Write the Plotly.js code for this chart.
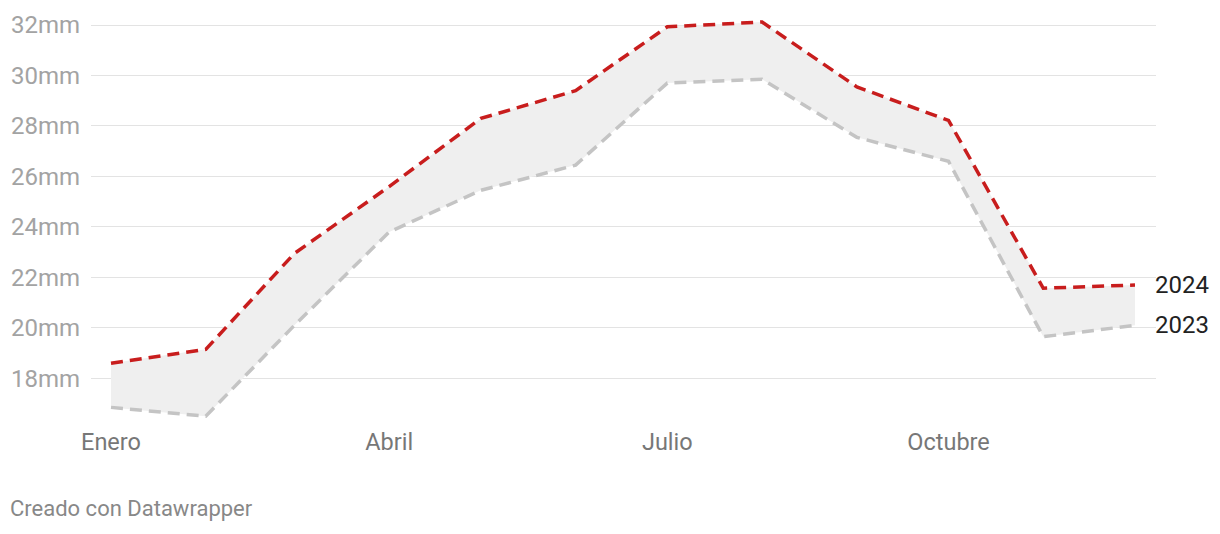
<!DOCTYPE html>
<html>
<head>
<meta charset="utf-8">
<script src="https://cdn.plot.ly/plotly-3.0.1.min.js"></script>
<style>
html,body{margin:0;padding:0;background:#fff;}
#chart{width:1220px;height:534px;}
</style>
</head>
<body>
<div id="chart"></div>
<script>
var months = ['2024-01-01','2024-02-01','2024-03-01','2024-04-01','2024-05-01','2024-06-01',
              '2024-07-01','2024-08-01','2024-09-01','2024-10-01','2024-11-01','2024-12-01'];
var values2023 = [16.85, 16.5, 20.1, 23.8, 25.45, 26.45, 29.7, 29.85, 27.55, 26.6, 19.65, 20.1];
var values2024 = [18.6, 19.15, 22.95, 25.6, 28.3, 29.4, 31.93, 32.12, 29.55, 28.22, 21.57, 21.7];
var tickDates = ['2024-01-01','2024-04-01','2024-07-01','2024-10-01'];
var tickNames = ['Enero','Abril','Julio','Octubre'];
var yTicks = [18, 20, 22, 24, 26, 28, 30, 32];
var yTickNames = yTicks.map(function(v){ return v + 'mm'; });
var seriesNames = ['2023', '2024'];

var traces = [
  {
    x: months, y: values2023, name: seriesNames[0], type: 'scatter', mode: 'lines',
    line: {color: '#c4c4c4', width: 3.5, dash: '12px,7px'},
    hoverinfo: 'skip'
  },
  {
    x: months, y: values2024, name: seriesNames[1], type: 'scatter', mode: 'lines',
    fill: 'tonexty', fillcolor: '#efefef',
    line: {color: '#c81d1d', width: 3.5, dash: '12px,7px'},
    hoverinfo: 'skip'
  }
];

var last = months.length - 1;
var layout = {
  width: 1220, height: 534,
  margin: {l: 91, r: 64, t: 20, b: 114},
  paper_bgcolor: '#ffffff', plot_bgcolor: '#ffffff',
  showlegend: false,
  font: {family: 'Roboto, sans-serif'},
  xaxis: {
    type: 'date',
    range: ['2023-12-25 11:00', '2024-12-07 21:00'],
    tickmode: 'array', tickvals: tickDates, ticktext: tickNames,
    showgrid: false, zeroline: false, showline: false, ticks: '',
    tickfont: {family: 'Roboto, sans-serif', size: 23.5, color: '#777777'},
    ticklabelstandoff: 5
  },
  yaxis: {
    range: [16.35, 32.2],
    tickmode: 'array', tickvals: yTicks, ticktext: yTickNames,
    showgrid: true, gridcolor: '#e3e3e3', gridwidth: 1,
    zeroline: false, showline: false, ticks: '',
    tickfont: {family: 'Roboto, sans-serif', size: 24, color: '#a3a3a3'},
    ticklabelstandoff: 10
  },
  annotations: [
    {x: months[last], y: values2024[last], xref: 'x', yref: 'y', text: seriesNames[1],
     showarrow: false, xanchor: 'left', yanchor: 'middle', xshift: 18,
     font: {family: 'Roboto, sans-serif', size: 24, color: '#222222'}},
    {x: months[last], y: values2023[last], xref: 'x', yref: 'y', text: seriesNames[0],
     showarrow: false, xanchor: 'left', yanchor: 'middle', xshift: 18,
     font: {family: 'Roboto, sans-serif', size: 24, color: '#222222'}},
    {x: -0.0775, y: -0.22, xref: 'paper', yref: 'paper', text: 'Creado con Datawrapper',
     showarrow: false, xanchor: 'left', yanchor: 'middle',
     font: {family: 'Roboto, sans-serif', size: 22, color: '#888888'}}
  ]
};

Plotly.newPlot('chart', traces, layout, {displayModeBar: false, staticPlot: true});
</script>
</body>
</html>
